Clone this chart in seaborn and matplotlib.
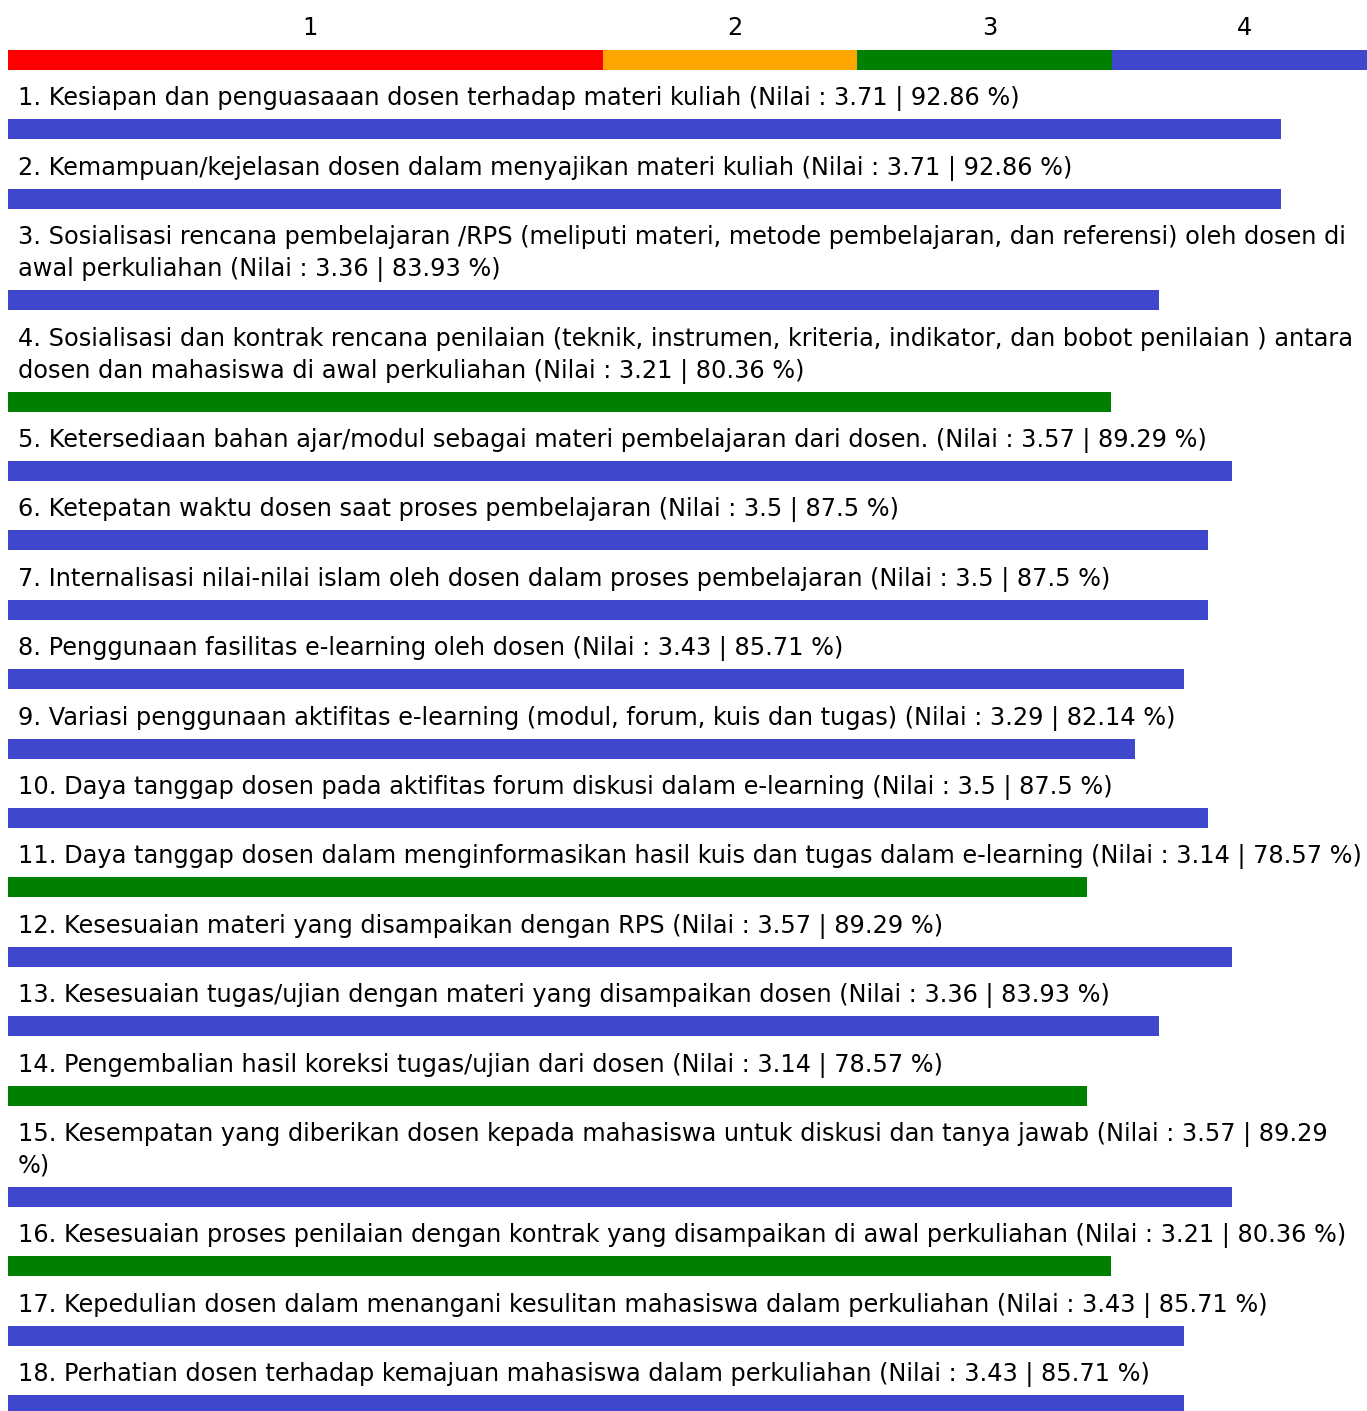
import numpy as np
import pandas as pd
import seaborn as sns
import matplotlib.pyplot as plt

# skala di header (batas dalam persen dari nilai maksimum 4)
skala_label = ['1', '2', '3', '4']
skala_batas = [0, 43.75, 62.5, 81.25, 100]
skala_warna = ['#ff0000', '#ffa500', '#008000', '#3f48cc']

label = [
    "1. Kesiapan dan penguasaaan dosen terhadap materi kuliah (Nilai : 3.71 | 92.86 %)",
    "2. Kemampuan/kejelasan dosen dalam menyajikan materi kuliah (Nilai : 3.71 | 92.86 %)",
    "3. Sosialisasi rencana pembelajaran /RPS (meliputi materi, metode pembelajaran, dan referensi) oleh dosen di\nawal perkuliahan (Nilai : 3.36 | 83.93 %)",
    "4. Sosialisasi dan kontrak rencana penilaian (teknik, instrumen, kriteria, indikator, dan bobot penilaian ) antara\ndosen dan mahasiswa di awal perkuliahan (Nilai : 3.21 | 80.36 %)",
    "5. Ketersediaan bahan ajar/modul sebagai materi pembelajaran dari dosen. (Nilai : 3.57 | 89.29 %)",
    "6. Ketepatan waktu dosen saat proses pembelajaran (Nilai : 3.5 | 87.5 %)",
    "7. Internalisasi nilai-nilai islam oleh dosen dalam proses pembelajaran (Nilai : 3.5 | 87.5 %)",
    "8. Penggunaan fasilitas e-learning oleh dosen (Nilai : 3.43 | 85.71 %)",
    "9. Variasi penggunaan aktifitas e-learning (modul, forum, kuis dan tugas) (Nilai : 3.29 | 82.14 %)",
    "10. Daya tanggap dosen pada aktifitas forum diskusi dalam e-learning (Nilai : 3.5 | 87.5 %)",
    "11. Daya tanggap dosen dalam menginformasikan hasil kuis dan tugas dalam e-learning (Nilai : 3.14 | 78.57 %)",
    "12. Kesesuaian materi yang disampaikan dengan RPS (Nilai : 3.57 | 89.29 %)",
    "13. Kesesuaian tugas/ujian dengan materi yang disampaikan dosen (Nilai : 3.36 | 83.93 %)",
    "14. Pengembalian hasil koreksi tugas/ujian dari dosen (Nilai : 3.14 | 78.57 %)",
    "15. Kesempatan yang diberikan dosen kepada mahasiswa untuk diskusi dan tanya jawab (Nilai : 3.57 | 89.29\n%)",
    "16. Kesesuaian proses penilaian dengan kontrak yang disampaikan di awal perkuliahan (Nilai : 3.21 | 80.36 %)",
    "17. Kepedulian dosen dalam menangani kesulitan mahasiswa dalam perkuliahan (Nilai : 3.43 | 85.71 %)",
    "18. Perhatian dosen terhadap kemajuan mahasiswa dalam perkuliahan (Nilai : 3.43 | 85.71 %)",
]
nilai = [3.71, 3.71, 3.36, 3.21, 3.57, 3.5, 3.5, 3.43, 3.29, 3.5, 3.14, 3.57, 3.36, 3.14, 3.57, 3.21, 3.43, 3.43]
persen = [92.86, 92.86, 83.93, 80.36, 89.29, 87.5, 87.5, 85.71, 82.14, 87.5, 78.57, 89.29, 83.93, 78.57, 89.29, 80.36, 85.71, 85.71]

W, H = 1367, 1411
kiri = 8          # pixel awal bar
pad = 0.8         # bar sedikit lebih panjang dari skala header
fs = 17.3

# susun posisi vertikal (pixel, dari atas)
y = 70
pos_teks, pos_bar = [], []
for lbl in label:
    lines = lbl.split('\n')
    y += 25.4
    pos_teks.append([y + 10 + k * 32 for k in range(len(lines))])
    y += (len(lines) - 1) * 32 + 24
    pos_bar.append(y + 10)
    y += 20

df = pd.DataFrame({
    'pos': pos_bar,
    'panjang': [p + pad for p in persen],
    'kategori': ['hijau' if v < 3.25 else 'biru' for v in nilai],
})

sns.set_theme(style='white')
plt.rcParams['font.family'] = ['DejaVu Sans']

fig = plt.figure(figsize=(W / 100, H / 100), dpi=100)
ax = fig.add_axes([kiri / W, 0, (W - kiri) / W, 1])

lebar = 20 / np.diff(sorted(pos_bar)).min()
sns.barplot(data=df, x='panjang', y='pos', hue='kategori', orient='h',
            native_scale=True, dodge=False, width=lebar, saturation=1,
            palette={'hijau': '#008000', 'biru': '#3f48cc'}, errorbar=None,
            linewidth=0, legend=False, ax=ax)

# header skala
for i in range(len(skala_label)):
    ax.barh(60, skala_batas[i + 1] - skala_batas[i], left=skala_batas[i],
            height=20, color=skala_warna[i], linewidth=0)
    tengah = (skala_batas[i] + skala_batas[i + 1]) / 2 + 0.35
    ax.text(tengah, 35, skala_label[i], ha='center', va='baseline',
            fontsize=fs, color='black')

tx = 10 / (W - kiri) * 100
for lbl, ys in zip(label, pos_teks):
    for line, yy in zip(lbl.split('\n'), ys):
        ax.text(tx, yy, line, ha='left', va='baseline', fontsize=fs, color='black')

ax.set_xlim(0, 100)
ax.set_ylim(H, 0)
ax.axis('off')

fig.savefig('out.png', dpi=100)
